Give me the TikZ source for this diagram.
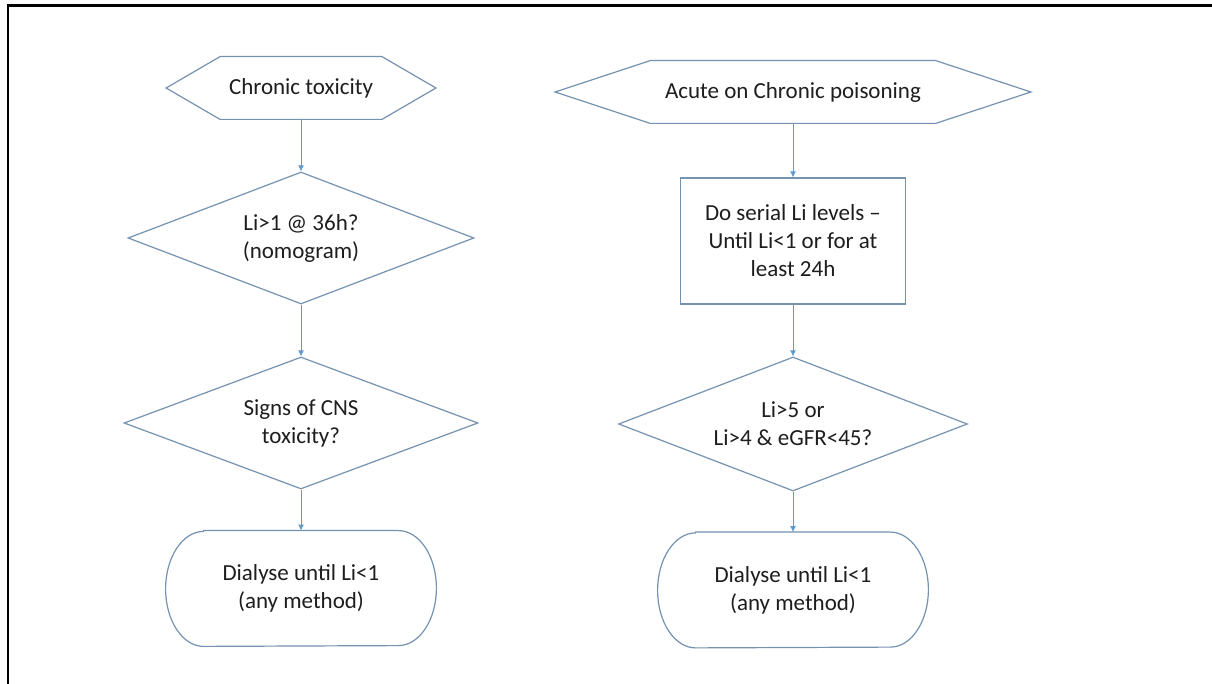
\documentclass[tikz,border=0pt]{standalone}
\usepackage{fontspec}
\setmainfont{Carlito}
\usetikzlibrary{shapes.geometric,arrows.meta,calc}

\definecolor{outlinecol}{HTML}{7592B0}
\definecolor{flowcol}{HTML}{5B9BD5}
\definecolor{textcol}{HTML}{1E1E1E}

\tikzstyle{every node}=[text=textcol,font=\fontsize{11.5}{14}\selectfont,align=center]
\tikzstyle{prep}=[rectangle,inner sep=0pt,minimum height=31pt]
\tikzstyle{decide}=[draw=outlinecol,line width=0.6pt,diamond,aspect=2.6,inner sep=0pt,minimum height=66pt]
\tikzstyle{process}=[draw=outlinecol,line width=0.6pt,rectangle,inner sep=0pt,minimum width=112.5pt,minimum height=63pt]
\tikzstyle{terminal}=[rectangle,inner sep=0pt,minimum width=135pt,minimum height=57.5pt]
\tikzset{outline/.style={draw=outlinecol,line width=0.6pt},
	flow/.style={->,draw=flowcol,line width=0.5pt}}

\newcommand{\hexline}[1]{
	\draw[outline] (#1.west) -- ($(#1.north west)!.2!(#1.north east)$) -- ($(#1.north east)!.2!(#1.north west)$)
		-- (#1.east) -- ($(#1.south east)!.2!(#1.south west)$) -- ($(#1.south west)!.2!(#1.south east)$) -- cycle;
}
\newcommand{\termline}[1]{
	\draw[outline] ([xshift=19pt]#1.north west) -- ([xshift=-19pt]#1.north east)
		arc[start angle=90,end angle=-90,x radius=19pt,y radius=28.75pt]
		-- ([xshift=19pt]#1.south west)
		arc[start angle=270,end angle=90,x radius=19pt,y radius=28.75pt] -- cycle;
}

\begin{document}
\begin{tikzpicture}[x=0.5pt,y=-0.5pt]
	\useasboundingbox (0,0) rectangle (1212,684);
	\fill[white] (0,0) rectangle (1212,684);
	\draw[line width=1.4pt] (8,684) -- (8,5.5) -- (1212,5.5);
	\begin{scope}[>={Latex[length=3pt,width=3pt]}]
		\node (hexL)[prep,minimum width=134.5pt]     at (301,88)    {Chronic toxicity};
		\node (dmdL1)[decide,minimum width=173pt]    at (301,238)   {Li>1 @ 36h?\\(nomogram)};
		\node (dmdL2)[decide,minimum width=177pt]    at (301,423)   {Signs of CNS\\toxicity?};
		\node (termL)[terminal]                      at (301,588.5) {Dialyse until Li<1\\(any method)};

		\node (hexR)[prep,minimum width=237.5pt]     at (793,92)    {Acute on Chronic poisoning};
		\node (boxR)[process]                        at (793,241)   {Do serial Li levels –\\Until Li<1 or for at\\least 24h};
		\node (dmdR)[decide,minimum width=174.5pt,minimum height=67pt] at (793,424) {Li>5 or\\Li>4 \& eGFR<45?};
		\node (termR)[terminal]                      at (793,590)   {Dialyse until Li<1\\(any method)};

		\hexline{hexL}
		\hexline{hexR}
		\termline{termL}
		\termline{termR}

		\foreach \a/\b in {hexL/dmdL1,dmdL1/dmdL2,dmdL2/termL,hexR/boxR,boxR/dmdR,dmdR/termR}{
			\draw[flow] (\a.south) -- (\b.north);
		}
	\end{scope}
\end{tikzpicture}
\end{document}
